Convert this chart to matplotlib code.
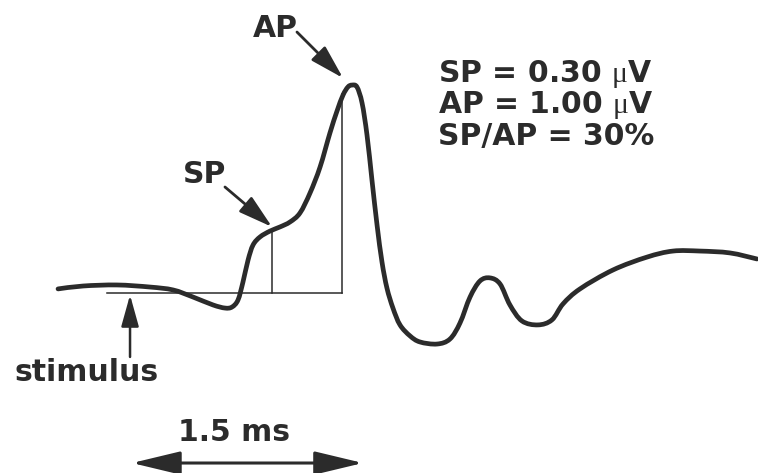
import numpy as np
import matplotlib.pyplot as plt
from matplotlib.path import Path
from matplotlib.patches import PathPatch

# ECochG trace, time in ms after stimulus, amplitude in uV (baseline = 0)
t_ms = [-0.48, -0.313, -0.087, 0.133, 0.287, 0.42, 0.553, 0.633, 0.68, 0.72,
        0.753, 0.787, 0.82, 0.867, 0.933, 1.0, 1.067, 1.133, 1.2, 1.267,
        1.333, 1.38, 1.42, 1.453, 1.48, 1.513, 1.547, 1.58, 1.613, 1.647,
        1.68, 1.713, 1.753, 1.8, 1.867, 1.933, 2.047, 2.133, 2.2, 2.267,
        2.333, 2.4, 2.467, 2.533, 2.613, 2.72, 2.813, 2.887, 3.0, 3.22,
        3.447, 3.62, 3.8, 4.0, 4.18]
amp_uv = [0.022, 0.036, 0.041, 0.031, 0.017, -0.017, -0.055, -0.07, -0.065, -0.031,
          0.055, 0.161, 0.233, 0.272, 0.3, 0.32, 0.344, 0.387, 0.483, 0.608,
          0.772, 0.877, 0.954, 0.993, 1.002, 0.993, 0.916, 0.762, 0.546, 0.329,
          0.151, 0.026, -0.07, -0.151, -0.204, -0.233, -0.243, -0.219, -0.142, -0.017,
          0.06, 0.075, 0.046, -0.055, -0.132, -0.151, -0.127, -0.05, 0.022, 0.113,
          0.175, 0.204, 0.204, 0.195, 0.166]

sp_time, sp_amp = 0.947, 0.30
ap_time, ap_amp = 1.413, 0.96
baseline_start = -0.153
scale_ms = 1.5

summary_lines = ["SP = 0.30 $\\mathrm{\\mu}$V", "AP = 1.00 $\\mathrm{\\mu}$V", "SP/AP = 30%"]


def smooth_path(xs, ys):
    # catmull-rom through the points, drawn as cubic bezier segments
    p = np.column_stack([xs, ys])
    p = np.vstack([p[0], p, p[-1]])
    verts = [p[1]]
    codes = [Path.MOVETO]
    for i in range(1, len(p) - 2):
        c1 = p[i] + (p[i + 1] - p[i - 1]) / 6
        c2 = p[i + 1] - (p[i + 2] - p[i]) / 6
        verts += [c1, c2, p[i + 1]]
        codes += [Path.CURVE4] * 3
    return Path(verts, codes)


plt.rcParams["font.family"] = ["DejaVu Sans"]
plt.rcParams["mathtext.fontset"] = "custom"
plt.rcParams["mathtext.rm"] = "Liberation Serif"

ink = "#2b2b2b"
fig = plt.figure(figsize=(7.58, 4.73), dpi=100)
ax = fig.add_axes([0, 0, 1, 1])
ax.set_xlim(-0.867, 4.187)
ax.set_ylim(-0.863, 1.411)
ax.axis("off")

# reference lines (baseline, SP and AP amplitudes)
ax.plot([baseline_start, ap_time], [0, 0], color=ink, lw=1.1)
ax.plot([sp_time, sp_time], [0, sp_amp], color=ink, lw=1.1)
ax.plot([ap_time, ap_time], [0, ap_amp], color=ink, lw=1.1)

ax.add_patch(PathPatch(smooth_path(t_ms, amp_uv), fill=False, edgecolor=ink,
                       lw=3.4, joinstyle="round", capstyle="round"))

font = dict(fontsize=21.5, fontweight="bold", color=ink)

ax.text(0.967, 1.276, "AP", ha="center", va="center", **font)
ax.annotate("", xy=(1.42, 1.036), xytext=(1.113, 1.257),
            arrowprops=dict(arrowstyle="-|>,head_length=1.05,head_width=0.3",
                            mutation_scale=20, lw=2, color=ink, shrinkA=0, shrinkB=0))

ax.text(0.5, 0.574, "SP", ha="center", va="center", **font)
ax.annotate("", xy=(sp_time, 0.32), xytext=(0.633, 0.512),
            arrowprops=dict(arrowstyle="-|>,head_length=1.05,head_width=0.3",
                            mutation_scale=20, lw=2, color=ink, shrinkA=0, shrinkB=0))

ax.text(-0.287, -0.382, "stimulus", ha="center", va="center", **font)
ax.annotate("", xy=(0, -0.007), xytext=(0, -0.305),
            arrowprops=dict(arrowstyle="-|>,head_length=0.97,head_width=0.27",
                            mutation_scale=20, lw=1.8, color=ink, shrinkA=0, shrinkB=0))

# time scale bar
ax.text(0.693, -0.666, f"{scale_ms} ms", ha="center", va="center", **font)
ax.annotate("", xy=(0.013 + scale_ms + 0.04, -0.815), xytext=(0.013, -0.815),
            arrowprops=dict(arrowstyle="<|-|>,head_length=1.5,head_width=0.36",
                            mutation_scale=20, lw=2.2, color=ink, shrinkA=0, shrinkB=0))

for i, line in enumerate(summary_lines):
    ax.text(2.053, 1.017 - i * 0.151, line, ha="left", va="baseline", **font)

fig.savefig("out.png", dpi=100)
